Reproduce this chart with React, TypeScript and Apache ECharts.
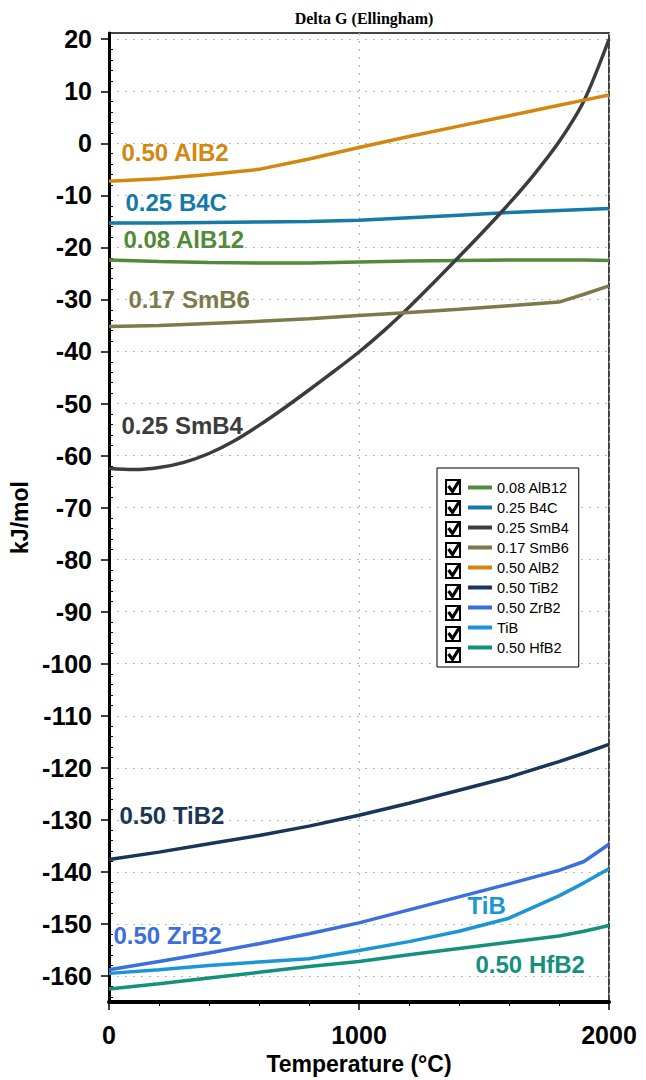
import React, { useEffect, useRef } from "react";
import * as echarts from "echarts";

const seriesNames = ["0.08 AlB12", "0.25 B4C", "0.25 SmB4", "0.17 SmB6", "0.50 AlB2", "0.50 TiB2", "0.50 ZrB2", "TiB", "0.50 HfB2"];
const seriesColors = ["#528a3a", "#1579a9", "#3c3c3c", "#7c7a4a", "#d4870f", "#1a3657", "#3b6fdc", "#1c95d6", "#14907c"];

const temps = [0, 200, 400, 600, 800, 1000, 1200, 1400, 1600, 1800, 1900, 2000];
const smb4Temps = [0, 100, 200, 300, 400, 500, 600, 700, 800, 900, 1000, 1100, 1200, 1300, 1400, 1500, 1600, 1700, 1800, 1900, 2000];

const alb12 = [-22.4, -22.7, -22.9, -23.0, -23.0, -22.8, -22.6, -22.5, -22.4, -22.4, -22.4, -22.5];
const b4c = [-15.3, -15.3, -15.2, -15.1, -15.0, -14.8, -14.3, -13.8, -13.3, -12.9, -12.7, -12.5];
const smb4 = [-62.5, -62.7, -62.3, -61.3, -59.6, -57.2, -54.2, -50.9, -47.4, -43.8, -40.1, -36.0, -31.5, -26.7, -21.8, -16.8, -11.6, -6.0, 0.3, 8.2, 20.0];
const smb6 = [-35.2, -35.0, -34.6, -34.2, -33.7, -33.1, -32.5, -31.9, -31.2, -30.5, -29.0, -27.4];
const alb2 = [-7.3, -6.8, -6.0, -5.0, -3.0, -0.8, 1.3, 3.3, 5.3, 7.3, 8.3, 9.3];
const tib2 = [-137.6, -136.2, -134.6, -133.0, -131.2, -129.1, -126.8, -124.3, -121.8, -118.8, -117.2, -115.5];
const zrb2 = [-158.8, -157.2, -155.6, -153.8, -151.9, -149.8, -147.3, -144.8, -142.3, -139.7, -138.0, -134.7];
const tib = [-159.5, -158.8, -158.0, -157.3, -156.7, -155.1, -153.4, -151.4, -148.9, -144.6, -142.1, -139.4];
const hfb2 = [-162.5, -161.5, -160.4, -159.3, -158.2, -157.2, -155.9, -154.7, -153.5, -152.3, -151.4, -150.3];

// in-chart label anchors (data units: temperature, kJ/mol)
const labelTemps = [56, 64, 48, 76, 48, 40, 16, 1432, 1464];
const labelValues = [-18.5, -11.4, -54.3, -30.0, -1.8, -129.2, -152.2, -146.4, -157.7];

const yTickValues = [20, 10, 0, -10, -20, -30, -40, -50, -60, -70, -80, -90, -100, -110, -120, -130, -140, -150, -160];
const xTickValues = [0, 1000, 2000];

const FONT = "'Liberation Sans', Arial, Helvetica, sans-serif";

export default function App() {
  const ref = useRef<HTMLDivElement>(null);
  useEffect(() => {
    if (!ref.current) return;
    const chart = echarts.init(ref.current, null, { renderer: "svg" });
    const valueSets = [alb12, b4c, smb4, smb6, alb2, tib2, zrb2, tib, hfb2];
    const minorY: number[] = [];
    for (let v = 20; v >= -164; v -= 2) if (v % 10 !== 0) minorY.push(v);

    const series = seriesNames.map((name, i) => {
      const xs = i === 2 ? smb4Temps : temps;
      return {
        name,
        type: "line",
        symbol: "none",
        data: valueSets[i].map((v, j) => [xs[j], v]),
        lineStyle: { color: seriesColors[i], width: 3.5 },
        itemStyle: { color: seriesColors[i] },
        smooth: i === 2 ? 0.3 : false,
        markPoint: {
          symbol: "rect",
          symbolSize: 1,
          itemStyle: { color: "rgba(0,0,0,0)" },
          label: {
            show: true,
            position: "right",
            distance: 0,
            formatter: name,
            fontSize: 24,
            fontWeight: "bold",
            fontFamily: FONT,
            color: seriesColors[i],
          },
          data: [{ coord: [labelTemps[i], labelValues[i]], name }],
        },
      };
    });

    const checkboxes: any[] = [];
    seriesNames.forEach((_, i) => {
      const cy = 487 + 21 * i;
      checkboxes.push({
        type: "rect",
        shape: { x: 446, y: cy - 7, width: 14, height: 14 },
        style: { fill: "#fff", stroke: "#000", lineWidth: 2 },
        z: 100,
      });
      checkboxes.push({
        type: "polyline",
        shape: { points: [[448.5, cy - 1], [452.5, cy + 4.5], [459, cy - 6]] },
        style: { stroke: "#000", lineWidth: 3.2, fill: null },
        z: 101,
      });
    });

    chart.setOption({
      animation: false,
      backgroundColor: "#fff",
      title: {
        text: "Delta G (Ellingham)",
        left: 359,
        top: 5,
        textAlign: "center",
        textStyle: { fontFamily: "'Liberation Serif', 'Times New Roman', serif", fontWeight: "bold", fontSize: 16, color: "#000" },
      },
      grid: { left: 109, right: 37, top: 33, bottom: 76, show: true, borderColor: "#444", borderWidth: 2, containLabel: false },
      legend: {
        orient: "vertical",
        left: 437,
        top: 468,
        padding: [12, 10, 12, 31],
        itemGap: 5,
        itemWidth: 24,
        itemHeight: 4,
        icon: "path://M0,0h24v4h-24z",
        backgroundColor: "#fff",
        borderColor: "#000",
        borderWidth: 1,
        selectedMode: false,
        textStyle: { fontSize: 14.5, color: "#000", fontFamily: FONT, padding: [0, 0, 0, 0] },
        data: seriesNames,
      },
      xAxis: {
        type: "value",
        min: 0,
        max: 2000,
        interval: 1000,
        name: "Temperature (°C)",
        nameLocation: "middle",
        nameGap: 50,
        nameTextStyle: { fontSize: 23, fontWeight: "bold", color: "#000", fontFamily: FONT },
        axisLine: { show: true, onZero: false, lineStyle: { color: "#000", width: 4 } },
        axisTick: { show: true, length: 8, lineStyle: { color: "#000", width: 1.5 }, customValues: xTickValues },
        minorTick: { show: true, splitNumber: 5, length: 4, lineStyle: { color: "#000", width: 1 } },
        axisLabel: {
          fontSize: 25, fontWeight: "bold", color: "#000", fontFamily: FONT, margin: 20,
          customValues: xTickValues, formatter: (v: number) => String(v),
        },
        splitLine: { show: true, lineStyle: { color: "#b5b5b5", type: [2, 6], width: 1.2 } },
      },
      yAxis: [
        {
          type: "value",
          min: -165,
          max: 21.2,
          name: "kJ/mol",
          nameLocation: "middle",
          nameGap: 72,
          nameTextStyle: { fontSize: 23, fontWeight: "bold", color: "#000", fontFamily: FONT },
          axisLine: { show: true, onZero: false, lineStyle: { color: "#000", width: 3 } },
          axisTick: { show: true, length: 8, lineStyle: { color: "#000", width: 1.5 }, customValues: yTickValues },
          axisLabel: {
            fontSize: 25, fontWeight: "bold", color: "#000", fontFamily: FONT, margin: 17,
            customValues: yTickValues, formatter: (v: number) => String(v),
          },
          splitLine: { show: true, lineStyle: { color: "#b5b5b5", type: [2, 6], width: 1.2 } },
        },
        {
          type: "value",
          min: -165,
          max: 21.2,
          position: "left",
          axisLine: { show: false },
          axisLabel: { show: false },
          axisTick: { show: true, inside: true, length: 4, lineStyle: { color: "#000", width: 1 }, customValues: minorY },
          splitLine: { show: false },
        },
      ],
      graphic: checkboxes,
      series,
    });
    return () => chart.dispose();
  }, []);
  return <div ref={ref} style={{ position: "fixed", left: 0, top: 0, width: 646, height: 1080 }} />;
}
